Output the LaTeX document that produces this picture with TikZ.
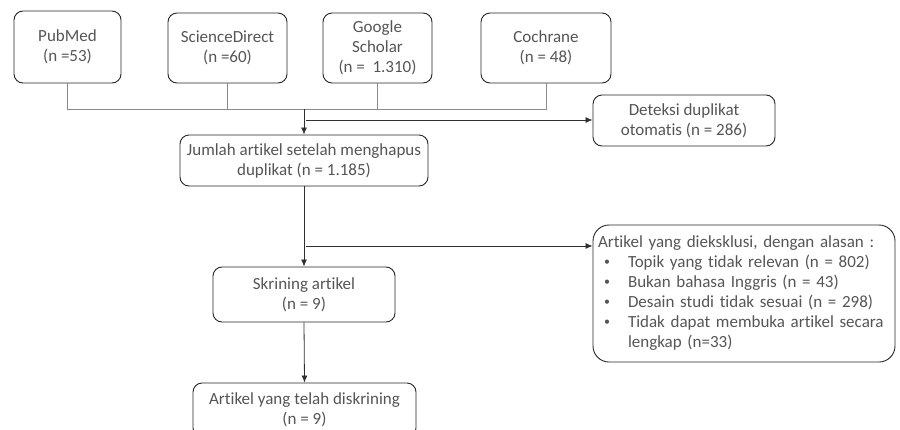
\documentclass[tikz,border=0pt]{standalone}
\usepackage{fontspec}
\setmainfont{Carlito}[Ligatures={NoCommon}]
\usetikzlibrary{arrows.meta}
\definecolor{txt}{HTML}{555555}
\definecolor{lgray}{HTML}{8A8A8A}
\definecolor{dline}{HTML}{303030}
\newcommand{\mybul}{\makebox[0pt]{\raisebox{2pt}{\scalebox{0.7}{\textbullet}}}}
\tikzset{
  box/.style={draw=black!85, line width=0.9pt, rounded corners=9pt, align=center, text=txt,
    font=\fontsize{17}{20}\selectfont, inner sep=2pt},
  src/.style={draw=lgray, line width=0.8pt},
  arr/.style={draw=dline, line width=0.8pt, -{Latex[length=7pt,width=6pt]}},
}
\begin{document}
\begin{tikzpicture}[x=1pt,y=-1pt]
\useasboundingbox (0,0) rectangle (900,429);
\clip (0,0) rectangle (900,429);
\node[box, minimum width=107pt, minimum height=72pt] (pub) at (67.5,47) {PubMed\\(n =53)};
\node[box, minimum width=119pt, minimum height=70pt] (sd) at (227.5,48) {ScienceDirect\\(n =60)};
\node[box, minimum width=109pt, minimum height=70pt] (gs) at (377.5,48) {Google\\Scholar\\(n = \ 1.310)};
\node[box, minimum width=130pt, minimum height=70pt] (coch) at (546,48) {Cochrane\\(n = 48)};
\node[box, minimum width=182pt, minimum height=51pt] (ded) at (684,120.5) {Deteksi duplikat\\otomatis (n = 286)};
\node[box, minimum width=248pt, minimum height=51pt] (jum) at (304,160.5) {Jumlah artikel setelah menghapus\\duplikat (n = 1.185)};
\node[box, minimum width=182pt, minimum height=55pt] (skr) at (304,294.5) {Skrining artikel\\(n = 9)};
\node[box, minimum width=223pt, minimum height=54pt] (art) at (304.5,410) {Artikel yang telah diskrining\\(n = 9)};
\node[box, rounded corners=16pt, text width=292pt, inner xsep=5pt, minimum height=137pt, align=left] (excl) at (744,293.5)
 {\mbox{Artikel yang dieksklusi, dengan alasan :}\\
 \mbox{\hspace*{9pt}\mybul\hspace{21pt}Topik yang tidak relevan (n = 802)}\\
 \mbox{\hspace*{9pt}\mybul\hspace{21pt}Bukan bahasa Inggris (n = 43)}\\
 \mbox{\hspace*{9pt}\mybul\hspace{21pt}Desain studi tidak sesuai (n = 298)}\\
 \mbox{\hspace*{9pt}\mybul\hspace{21pt}Tidak dapat membuka artikel secara}\\
 \mbox{\hspace*{30pt}lengkap (n=33)}};
\coordinate (hl) at (0,109);
\coordinate (d0) at (306,120);
\coordinate (e0) at (306,246);
\draw[src] (pub.south) |- (hl -| coch.south) -- (coch.south);
\draw[src] (sd.south) -- (sd.south |- hl);
\draw[src] (gs.south) -- (gs.south |- hl);
\draw[arr] (hl -| jum.north) -- (jum.north);
\draw[arr] (d0) -- (d0 -| ded.west);
\draw[arr] (jum.south) -- (skr.north);
\draw[arr] (e0) -- (e0 -| excl.west);
\draw[arr] (skr.south) -- (art.north);
\end{tikzpicture}
\end{document}
